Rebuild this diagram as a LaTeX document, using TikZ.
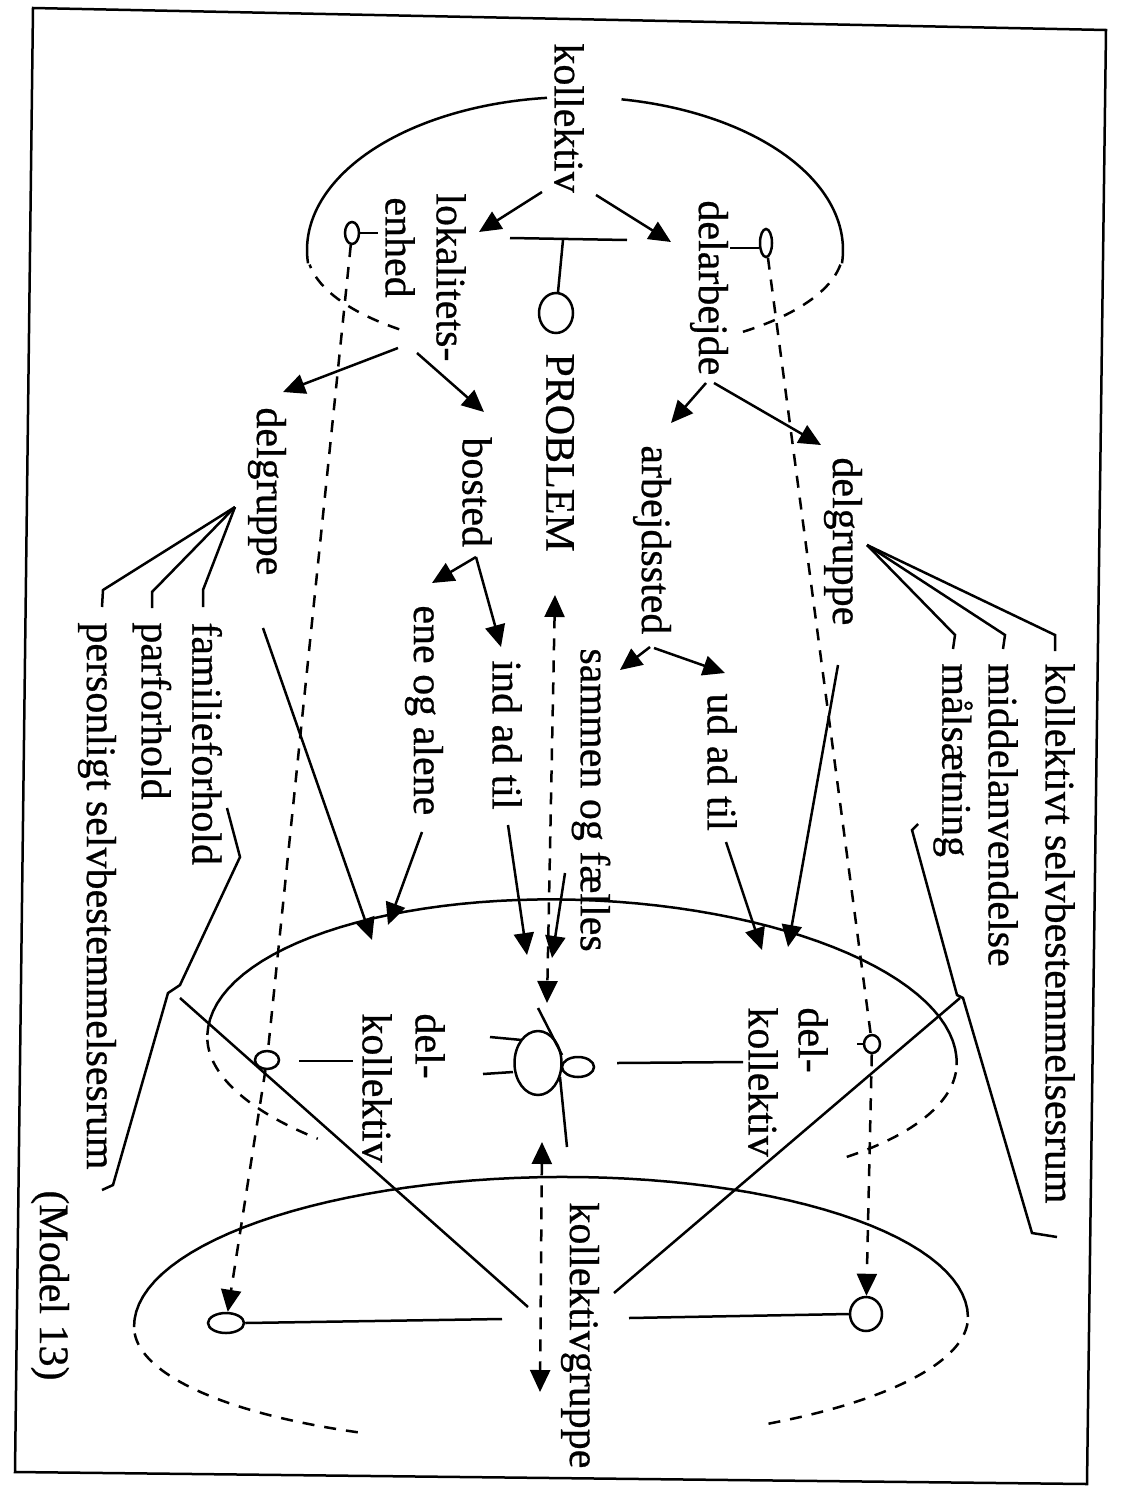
\documentclass[tikz,border=0pt]{standalone}
\usepackage{fontspec}
\setmainfont{Liberation Serif}[FakeBold=0.6]
\usetikzlibrary{arrows.meta,shapes.geometric}
\newcommand{\ellarc}[8]{\draw[#8] plot[domain=#6:#7,samples=60]
  ({#1+#3*cos(\x)*cos(#5)-#4*sin(\x)*sin(#5)},{#2+#3*cos(\x)*sin(#5)+#4*sin(\x)*cos(#5)});}
\begin{document}
\begin{tikzpicture}[x=0.5pt,y=-0.5pt,
  ln/.style={line width=1.25pt},
  dsh/.style={line width=1.25pt,dash pattern=on 6pt off 5pt},
  tip/.style={-{Triangle[length=11pt,width=10pt]}},
  btip/.style={{Triangle[length=11pt,width=10pt]}-{Triangle[length=11pt,width=10pt]}},
  lbl/.style={rotate=-90,anchor=west,inner sep=0pt,font=\fontsize{21}{24}\selectfont},
  oval/.style={draw,ellipse,inner sep=0pt,line width=1.25pt}]
\fill[white] (0,0) rectangle (1122,1488);
\useasboundingbox (0,0) rectangle (1122,1488);

% frame
\draw[ln] (33,8) -- (1106,30) -- (1087,1484) -- (15,1472) -- cycle;

% ellipses
\ellarc{575}{250}{268}{153}{0}{175}{264}{ln}
\ellarc{575}{250}{268}{153}{0}{280}{365}{ln}
\ellarc{575}{250}{268}{105}{0}{131}{172}{dsh}
\ellarc{575}{250}{268}{105}{0}{8}{53}{dsh}
\ellarc{582}{1050}{375}{150}{2.3}{180}{360}{ln}
\ellarc{582}{1050}{375}{138}{2.3}{178}{134}{dsh}
\ellarc{582}{1050}{375}{138}{2.3}{3}{45}{dsh}
\ellarc{551}{1322}{417}{145}{-0.7}{180}{360}{ln}
\ellarc{551}{1322}{417}{122}{-0.7}{177}{117}{dsh}
\ellarc{551}{1322}{417}{122}{-0.7}{3}{59}{dsh}

% labels
\node[lbl] (kol) at (569,43) {kollektiv};
\node[lbl] (lok) at (451,193) {lokalitets-};
\node[lbl] (enh) at (400,197) {enhed};
\node[lbl] (prob) at (560,353) {PROBLEM};
\node[lbl] (dela) at (709,200) {delarbejde};
\node[lbl] (dgR) at (843,457) {delgruppe};
\node[lbl] (arb) at (652,445) {arbejdssted};
\node[lbl] (bos) at (477,437) {bosted};
\node[lbl] (dgL) at (267,407) {delgruppe};
\node[lbl] (ud) at (722,693) {ud ad til};
\node[lbl] (sam) at (591,648) {sammen og fælles};
\node[lbl] (ind) at (507,660) {ind ad til};
\node[lbl] (ene) at (424,605) {ene og alene};
\node[lbl] (dkR1) at (813,1007) {del-};
\node[lbl] (dkR2) at (763,1007) {kollektiv};
\node[lbl] (dkL1) at (430,1013) {del-};
\node[lbl] (dkL2) at (377,1013) {kollektiv};
\node[lbl] (kgr) at (580,1202) {kollektivgruppe};
\node[lbl] (model) at (50,1190) {(Model 13)};
\node[lbl] (ksr) at (1060,663) {kollektivt selvbestemmelsesrum};
\node[lbl] (mid) at (1003,663) {middelanvendelse};
\node[lbl] (mal) at (953,663) {målsætning};
\node[lbl] (fam) at (207,622) {familieforhold};
\node[lbl] (par) at (152,622) {parforhold};
\node[lbl] (psr) at (97,622) {personligt selvbestemmelsesrum};

% small symbols
\node[oval,minimum width=17pt,minimum height=20pt] (oP) at (556,313) {};
\node[oval,minimum width=7pt,minimum height=11pt] (oE) at (352,233) {};
\node[oval,minimum width=6pt,minimum height=14pt] (oTR) at (766,243) {};
\node[oval,minimum width=12pt,minimum height=9pt] (oL) at (267,1060) {};
\node[oval,minimum width=8pt,minimum height=9pt] (oR) at (872,1044) {};
\node[oval,minimum width=18pt,minimum height=10pt] (oBL) at (226,1323) {};
\node[oval,minimum width=16pt,minimum height=17pt] (oBR) at (866,1314) {};
\node[oval,minimum width=23.5pt,minimum height=32pt] (fig) at (538,1063) {};
\node[oval,minimum width=16pt,minimum height=10pt] (figs) at (578,1067) {};

% T-shape
\coordinate (tL) at (510,238); \coordinate (tR) at (627,240); \coordinate (tM) at (563,240);
\draw[ln] (tL) -- (tR);
\draw[ln] (tM) -- (oP);
% stems
\draw[ln] (oE.east) -- ++(18,0);
\draw[ln] (oTR.west) ++(0,5) -- ++(-29,0);
\draw[ln] (oR.west) -- ++(-6,0);

% figure lines
\coordinate (f1a) at (490,1037); \coordinate (f1b) at (522,1040);
\coordinate (f2a) at (483,1074); \coordinate (f2b) at (513,1072);
\coordinate (f3a) at (538,1008); \coordinate (f3b) at (562,1055);
\coordinate (f4a) at (560,1077); \coordinate (f4b) at (567,1147);
\draw[ln] (f1a) -- (f1b); \draw[ln] (f2a) -- (f2b);
\draw[ln] (f3a) -- (f3b); \draw[ln] (f4a) -- (f4b);
\coordinate (hL1) at (299,1061); \coordinate (hL2) at (353,1061);
\coordinate (hR1) at (617,1063); \coordinate (hR2) at (743,1062);
\draw[ln] (hL1) -- (hL2); \draw[ln] (hR1) -- (hR2);
\coordinate (bL2) at (502,1319); \coordinate (bR1) at (629,1318);
\draw[ln] (oBL.east) -- (bL2); \draw[ln] (bR1) -- (oBR.west);

% arrows
\foreach \s/\e in {{542,192}/{479,232},{596,195}/{671,242},{398,348}/{283,392},{417,353}/{484,412},
  {706,383}/{671,423},{714,383}/{821,445},{476,557}/{432,583},{476,557}/{501,647},
  {650,647}/{620,670},{654,648}/{725,673},{508,825}/{527,955},{565,873}/{552,958},
  {422,832}/{388,925},{263,628}/{372,940},{726,842}/{762,950},{838,665}/{788,947}}
  {\draw[ln,tip] (\s) -- (\e);}

% dashed double arrows
\coordinate (pbA) at (555,595); \coordinate (pbB) at (547,1003);
\draw[dsh,btip] (pbA) -- (pbB);
\coordinate (kgA) at (542,1142); \coordinate (kgB) at (540,1392);
\draw[dsh,btip] (kgA) -- (kgB);

% dashed verticals
\draw[dsh] (oE) -- (oL);
\draw[dsh,tip] (oL) -- (oBL);
\draw[dsh] (oTR) -- (oR);
\draw[dsh,tip] (oR) -- (oBR);

% fans
\coordinate (fanL) at (235,507); \coordinate (fanR) at (867,545);
\draw[ln] (fanL) -- (203,590) -- (203,607);
\draw[ln] (fanL) -- (152,592) -- (152,608);
\draw[ln] (fanL) -- (103,590) -- (102,607);
\draw[ln] (fanR) -- (1055,635) -- (1055,651);
\draw[ln] (fanR) -- (1005,635) -- (1003,649);
\draw[ln] (fanR) -- (955,635) -- (953,649);

% brackets and diagonals
\coordinate (apL) at (180,998); \coordinate (apR) at (960,998);
\coordinate (enL) at (528,1307); \coordinate (enR) at (614,1293);
\draw[ln] (227,808) -- (240,857) -- (180,985) -- (168,993) -- (113,1185) -- (102,1190);
\draw[ln] (918,824) -- (912,830) -- (957,995) -- (963,998) -- (1032,1233) -- (1057,1237);
\draw[ln] (apL) -- (enL);
\draw[ln] (apR) -- (enR);
\end{tikzpicture}
\end{document}
